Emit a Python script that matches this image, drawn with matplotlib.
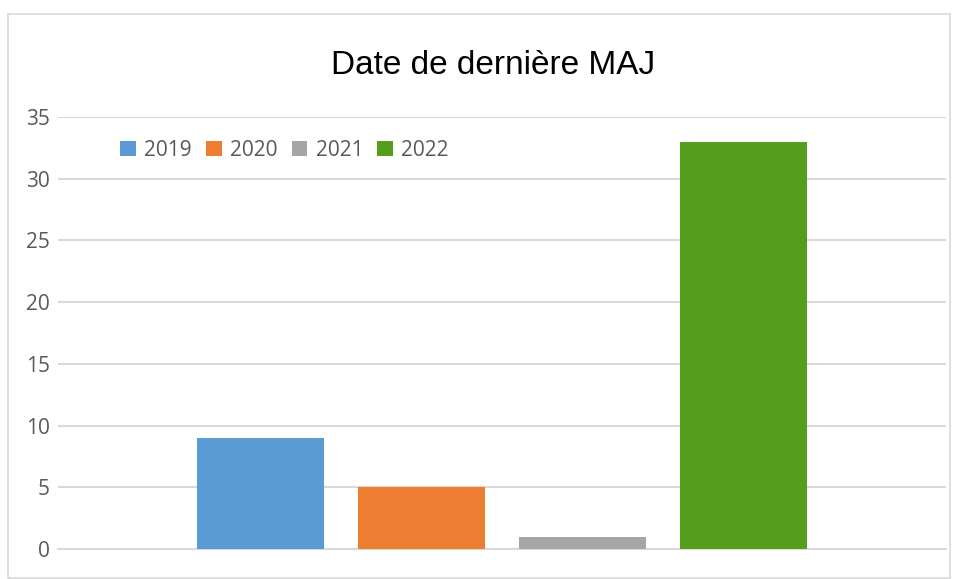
import numpy as np
import matplotlib.pyplot as plt
from matplotlib.patches import Rectangle

years = ["2019", "2020", "2021", "2022"]
counts = [9, 5, 1, 33]
colors = ["#5B9BD5", "#ED7D31", "#A5A5A5", "#559D1C"]
yticks = [0, 5, 10, 15, 20, 25, 30, 35]

plt.rcParams['font.family'] = ['Open Sans', 'DejaVu Sans']

fig = plt.figure(figsize=(9.54, 5.79), dpi=100)
ax = fig.add_axes([58 / 954, 1 - 549 / 579, (946 - 58) / 954, (549 - 117) / 579])

step = 0.1813
width = 0.143
for i, (yr, val, col) in enumerate(zip(years, counts, colors)):
    ax.bar((i - 1.5) * step, val, width=width, color=col, label=yr, zorder=3)

ax.set_xlim(-0.5, 0.5)
ax.set_ylim(0, 35)
ax.set_yticks(yticks)
ax.set_xticks([])
ax.grid(axis='y', color='#D9D9D9', linewidth=1.5, zorder=0)
ax.tick_params(axis='y', length=0, pad=6, labelsize=15, labelcolor='#595959')
for s in ['top', 'right', 'left']:
    ax.spines[s].set_visible(False)
ax.spines['bottom'].set_color('#D9D9D9')
ax.spines['bottom'].set_linewidth(1.5)

ax.legend(loc='upper left', bbox_to_anchor=(0.049, 0.99), ncol=4, frameon=False,
          fontsize=15, labelcolor='#595959', handlelength=0.75, handleheight=0.75,
          handletextpad=0.4, columnspacing=0.68)

fig.text(493 / 954, 1 - 66 / 579, "Date de dernière MAJ", ha='center', va='center',
         fontsize=24, color='black', family=['Liberation Sans', 'DejaVu Sans'])

fig.patches.append(Rectangle((8 / 954, 1 / 579), 942 / 954, 564 / 579, transform=fig.transFigure,
                             fill=False, edgecolor='#D9D9D9', linewidth=1.2))

fig.savefig("out.png", dpi=100)
